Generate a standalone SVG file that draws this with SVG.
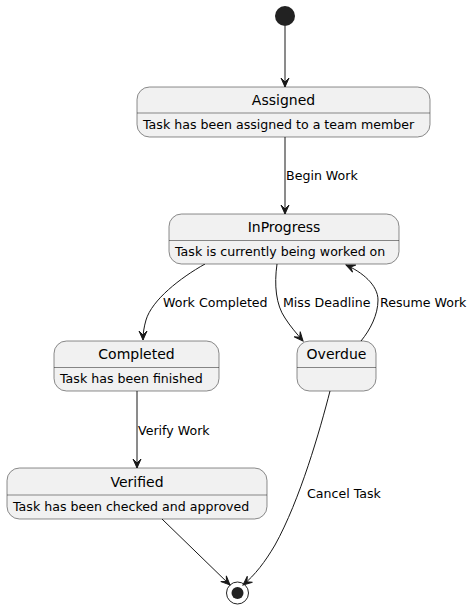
<svg xmlns="http://www.w3.org/2000/svg" width="473" height="607" viewBox="0 0 473 607">
<style>
.box{fill:#F1F1F1;stroke:#181818;stroke-width:0.5}
.div{stroke:#181818;stroke-width:0.5}
.title{font-family:"DejaVu Sans",sans-serif;font-size:14px;fill:#000;text-anchor:middle}
.body{font-family:"DejaVu Sans",sans-serif;font-size:12.6px;fill:#000}
.lbl{font-family:"DejaVu Sans",sans-serif;font-size:12.6px;fill:#000}
.edge{fill:none;stroke:#181818;stroke-width:1;marker-end:url(#arr)}
</style>
<defs>
<marker id="arr" viewBox="-10 -5 11 10" refX="0" refY="0" markerWidth="11" markerHeight="10" markerUnits="userSpaceOnUse" orient="auto">
<path d="M0,0 L-9,-4 L-5,0 L-9,4 Z" fill="#181818" stroke="#181818" stroke-width="1"/>
</marker>
</defs>
<rect width="473" height="607" fill="#FFFFFF"/>
<g id="connectors">
<path class="edge" d="M285,26 L285,87"/>
<path class="edge" d="M285,137 L285,214"/>
<path class="edge" d="M205,264 C180,278 152,300 146,320 C144,327 143,333 143,340"/>
<path class="edge" d="M277,264 C274,285 276,305 285,318 C290,326 297,334 303,341"/>
<path class="edge" d="M361,341 C370,330 378,315 378,300 C378,285 362,272 346,265"/>
<path class="edge" d="M137,391 L137,468"/>
<path class="edge" d="M162,519 L230,585"/>
<path class="edge" d="M330,391 C320,430 300,500 275,545 C265,562 255,575 243,585"/>
<text class="lbl" x="286" y="180">Begin Work</text>
<text class="lbl" x="163" y="307">Work Completed</text>
<text class="lbl" x="283" y="307">Miss Deadline</text>
<text class="lbl" x="380" y="307">Resume Work</text>
<text class="lbl" x="138" y="435">Verify Work</text>
<text class="lbl" x="307" y="498">Cancel Task</text>
</g>
<g id="start"><circle cx="285" cy="16" r="10" fill="#222222"/></g>
<g id="Assigned">
<rect class="box" x="137" y="87" width="293" height="50" rx="12.5"/>
<line class="div" x1="137" y1="113" x2="430" y2="113"/>
<text class="title" x="283.5" y="105">Assigned</text>
<text class="body" x="143" y="129">Task has been assigned to a team member</text>
</g>
<g id="InProgress">
<rect class="box" x="169" y="214" width="230" height="50" rx="12.5"/>
<line class="div" x1="169" y1="240.5" x2="399" y2="240.5"/>
<text class="title" x="284" y="232">InProgress</text>
<text class="body" x="175" y="256">Task is currently being worked on</text>
</g>
<g id="Completed">
<rect class="box" x="54" y="341" width="165" height="50" rx="12.5"/>
<line class="div" x1="54" y1="367.5" x2="219" y2="367.5"/>
<text class="title" x="136.5" y="359">Completed</text>
<text class="body" x="60" y="383">Task has been finished</text>
</g>
<g id="Overdue">
<rect class="box" x="297" y="341" width="79" height="50" rx="12.5"/>
<line class="div" x1="297" y1="367.5" x2="376" y2="367.5"/>
<text class="title" x="336.5" y="359">Overdue</text>
</g>
<g id="Verified">
<rect class="box" x="7" y="468" width="260" height="51" rx="12.5"/>
<line class="div" x1="7" y1="495" x2="267" y2="495"/>
<text class="title" x="137" y="487">Verified</text>
<text class="body" x="13" y="511">Task has been checked and approved</text>
</g>
<g id="end">
<circle cx="237.5" cy="593" r="11" fill="none" stroke="#222222" stroke-width="1"/>
<circle cx="237.5" cy="593" r="6" fill="#222222"/>
</g>
</svg>
